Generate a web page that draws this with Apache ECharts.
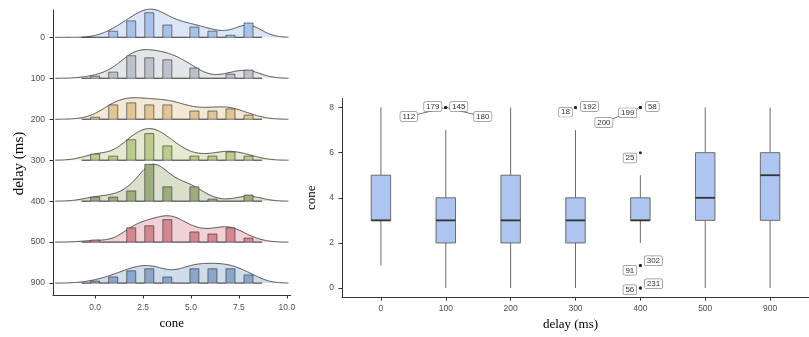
<!DOCTYPE html>
<html>
<head>
<meta charset="utf-8">
<script src="https://cdn.jsdelivr.net/npm/echarts@6/dist/echarts.min.js"></script>
<style>
  html, body { margin: 0; padding: 0; background: #fff; }
  #chart { width: 809px; height: 337px; }
</style>
</head>
<body>
<div id="chart"></div>
<script>
// delay groups (ms), top ridge first
const delays = ['0', '100', '200', '300', '400', '500', '900'];

// cone scores that occur
const coneValues = [0, 1, 2, 3, 4, 5, 6, 7, 8];

// how many trials got each cone score, per delay group
const counts0   = [0, 3, 8, 12, 6, 5, 3, 1, 7];
const counts100 = [1, 3, 11, 10, 9, 5, 0, 2, 4];
const counts200 = [1, 7, 8, 7, 7, 4, 4, 5, 2];
const counts300 = [3, 2, 10, 13, 7, 2, 2, 4, 2];
const counts400 = [2, 2, 5, 18, 7, 7, 1, 0, 3];
const counts500 = [1, 0, 7, 8, 11, 5, 4, 7, 2];
const counts900 = [1, 3, 6, 7, 3, 7, 7, 7, 4];
const groupCounts = [counts0, counts100, counts200, counts300, counts400, counts500, counts900];

// boxplot summary per delay group
const whiskerLow  = [1, 0, 0, 0, 2, 0, 0];
const boxQ1       = [3, 2, 2, 2, 3, 3, 3];
const boxMedian   = [3, 3, 3, 3, 3, 4, 5];
const boxQ3       = [5, 4, 5, 4, 4, 6, 6];
const whiskerHigh = [8, 7, 8, 7, 5, 8, 8];

// outliers: [delay group index, cone, row id]
const outliers = [
  [1, 8, '112'], [1, 8, '179'], [1, 8, '145'], [1, 8, '180'],
  [3, 8, '18'], [3, 8, '192'],
  [4, 8, '200'], [4, 8, '199'], [4, 8, '58'],
  [4, 6, '25'],
  [4, 1, '91'], [4, 1, '302'],
  [4, 0, '56'], [4, 0, '231']
];

// tick labels
const coneTicks = [0, 2.5, 5, 7.5, 10];
const boxTicks = [0, 2, 4, 6, 8];

// --- layout / style (not data) ---
const rowBar  = ['#a8c2ea', '#bcc1ca', '#e1c695', '#bccb8b', '#9dac7e', '#d5878f', '#8aa6cc'];
const rowFill = ['#dae5f7', '#e3e5e9', '#f3e8d5', '#e4e9d0', '#d9dfcb', '#f0d1d5', '#d0dcea'];
// label offsets in px from the outlier point (repel layout)
const labelNudge = {
  '112': [-37, 9], '179': [-13, -1], '145': [13, -1], '180': [37, 9],
  '18': [-10, 4.6], '192': [14, -1],
  '200': [-36.5, 15], '199': [-12.7, 5.3], '58': [12, -1],
  '25': [-10.4, 5.3],
  '91': [-10.5, 4.8], '302': [13, -4.8],
  '56': [-10.5, 1.7], '231': [13.2, -4.3]
};
const ridgeScale = 0.9;
const serif = 'Liberation Serif';
const sans = 'Liberation Sans';

// --- stats, the way the ridgeline layers compute them ---
function samplesOf(counts) {
  const xs = [];
  counts.forEach((c, i) => { for (let k = 0; k < c; k++) xs.push(coneValues[i]); });
  return xs;
}

function bwNrd0(xs) {
  const n = xs.length;
  const mean = xs.reduce((a, b) => a + b, 0) / n;
  const sd = Math.sqrt(xs.reduce((a, b) => a + (b - mean) * (b - mean), 0) / (n - 1));
  const s = xs.slice().sort((a, b) => a - b);
  const q = p => {
    const h = (n - 1) * p, lo = Math.floor(h);
    return s[lo] + (h - lo) * (s[Math.min(lo + 1, n - 1)] - s[lo]);
  };
  const lo = Math.min(sd, (q(0.75) - q(0.25)) / 1.34) || sd || 1;
  return 0.9 * lo * Math.pow(n, -0.2);
}

const groupSamples = groupCounts.map(samplesOf);
// joint bandwidth = mean of the per-group ones
const bw = groupSamples.map(bwNrd0).reduce((a, b) => a + b, 0) / groupSamples.length;
const dataMin = Math.min(...coneValues), dataMax = Math.max(...coneValues);
const gridN = 256;
const densX = [];
for (let i = 0; i < gridN; i++) {
  densX.push(dataMin - 3 * bw + (dataMax - dataMin + 6 * bw) * i / (gridN - 1));
}
const densities = groupSamples.map(xs => densX.map(x => {
  let sum = 0;
  xs.forEach(v => { const z = (x - v) / bw; sum += Math.exp(-0.5 * z * z); });
  return sum / (xs.length * bw * Math.sqrt(2 * Math.PI));
}));
const densMax = Math.max(...densities.map(d => Math.max(...d)));

// histogram: 18 bins centred on multiples of the width, padded by one empty bin each side
const nBins = 18;
const binW = (dataMax - dataMin) / (nBins - 1);
const binCenters = [];
for (let k = -1; k <= nBins; k++) binCenters.push(dataMin + k * binW);
const binCounts = groupCounts.map(counts => binCenters.map((c, bi) => {
  const k = bi - 1;
  let s = 0;
  counts.forEach((n, i) => {
    if (Math.ceil((coneValues[i] - dataMin - binW / 2) / binW - 1e-9) === k) s += n;
  });
  return s;
}));
const countMax = Math.max(...binCounts.map(b => Math.max(...b)));

const nRows = delays.length;
const baseOf = g => nRows - 1 - g;

const chart = echarts.init(document.getElementById('chart'), null, { renderer: 'canvas' });

const axisLine = { show: true, onZero: false, lineStyle: { color: '#333', width: 1 } };
const tickLabel = { fontSize: 8.5, color: '#4d4d4d', fontFamily: sans };
const titleStyle = { fontFamily: serif, fontSize: 13, color: '#000' };

chart.setOption({
  animation: false,
  backgroundColor: '#fff',
  grid: [
    { left: 53, top: 10, width: 237.7, height: 285 },
    { left: 342, top: 98.5, width: 478.6, height: 198.6 }
  ],
  xAxis: [
    {
      gridIndex: 0, type: 'value', min: -2.2, max: 10.2,
      axisLine: axisLine,
      axisTick: { show: true, length: 3.5, customValues: coneTicks, lineStyle: { color: '#333' } },
      axisLabel: Object.assign({ customValues: coneTicks, margin: 8, formatter: v => v.toFixed(1) }, tickLabel),
      splitLine: { show: false },
      name: 'cone', nameLocation: 'middle', nameGap: 21, nameTextStyle: titleStyle
    },
    {
      gridIndex: 1, type: 'value', min: 0.4, max: 7.6,
      axisLine: axisLine,
      axisTick: { show: true, length: 3.5, customValues: delays.map((d, i) => i + 1), lineStyle: { color: '#333' } },
      axisLabel: Object.assign({
        customValues: delays.map((d, i) => i + 1), margin: 7,
        formatter: v => delays[Math.round(v) - 1]
      }, tickLabel),
      splitLine: { show: false },
      name: 'delay (ms)', nameLocation: 'middle', nameGap: 21,
      nameTextStyle: Object.assign({ padding: [0, 10, 0, 0] }, titleStyle)
    }
  ],
  yAxis: [
    {
      gridIndex: 0, type: 'value', min: -0.29, max: 6.667,
      axisLine: axisLine,
      axisTick: { show: true, length: 3.5, customValues: delays.map((d, i) => baseOf(i)), lineStyle: { color: '#333' } },
      axisLabel: Object.assign({
        customValues: delays.map((d, i) => baseOf(i)), margin: 8,
        formatter: v => delays[nRows - 1 - Math.round(v)]
      }, tickLabel),
      splitLine: { show: false },
      name: 'delay (ms)', nameLocation: 'middle', nameGap: 26,
      nameTextStyle: Object.assign({}, titleStyle, { fontSize: 15, padding: [0, 22, 0, 0] })
    },
    {
      gridIndex: 1, type: 'value', min: -0.4, max: 8.4,
      axisLine: axisLine,
      axisTick: { show: true, length: 3.5, customValues: boxTicks, lineStyle: { color: '#333' } },
      axisLabel: Object.assign({ customValues: boxTicks, margin: 8 }, tickLabel),
      splitLine: { show: false },
      name: 'cone', nameLocation: 'middle', nameGap: 16, nameTextStyle: titleStyle
    }
  ],
  series: [
    {
      // density ridges
      type: 'custom', xAxisIndex: 0, yAxisIndex: 0, z: 2,
      data: delays.map((d, g) => [0, baseOf(g)]),
      renderItem: (params, api) => {
        const g = params.dataIndex;
        const base = baseOf(g);
        const top = densX.map((x, i) => api.coord([x, base + densities[g][i] / densMax * ridgeScale]));
        const area = [api.coord([densX[0], base])].concat(top, [api.coord([densX[densX.length - 1], base])]);
        return {
          type: 'group',
          children: [
            { type: 'polygon', shape: { points: area }, style: { fill: rowFill[g] } },
            { type: 'polyline', shape: { points: top }, style: { stroke: '#2b2b2b', lineWidth: 0.8, fill: null } }
          ]
        };
      }
    },
    {
      // histogram outlines
      type: 'custom', xAxisIndex: 0, yAxisIndex: 0, z: 3,
      data: delays.map((d, g) => [0, baseOf(g)]),
      renderItem: (params, api) => {
        const g = params.dataIndex;
        const base = baseOf(g);
        const pts = [api.coord([binCenters[0] - binW / 2, base])];
        binCenters.forEach((c, bi) => {
          const h = base + binCounts[g][bi] / countMax * ridgeScale;
          pts.push(api.coord([c - binW / 2, h]));
          pts.push(api.coord([c + binW / 2, h]));
        });
        pts.push(api.coord([binCenters[binCenters.length - 1] + binW / 2, base]));
        return {
          type: 'polygon', shape: { points: pts },
          style: { fill: rowBar[g], stroke: '#2b2b2b', lineWidth: 0.6 }
        };
      }
    },
    {
      // boxes and whiskers
      type: 'custom', xAxisIndex: 1, yAxisIndex: 1, z: 2,
      data: delays.map((d, g) => [g + 1, boxMedian[g]]),
      renderItem: (params, api) => {
        const g = params.dataIndex;
        const x = g + 1;
        const hw = 0.15;
        const lo = api.coord([x, whiskerLow[g]]);
        const q1 = api.coord([x, boxQ1[g]]);
        const q3 = api.coord([x, boxQ3[g]]);
        const hi = api.coord([x, whiskerHigh[g]]);
        const left = api.coord([x - hw, boxQ1[g]])[0];
        const right = api.coord([x + hw, boxQ1[g]])[0];
        const med = api.coord([x, boxMedian[g]])[1];
        const ws = { stroke: '#5a5a5a', lineWidth: 0.9 };
        return {
          type: 'group',
          children: [
            { type: 'line', shape: { x1: lo[0], y1: lo[1], x2: q1[0], y2: q1[1] }, style: ws },
            { type: 'line', shape: { x1: q3[0], y1: q3[1], x2: hi[0], y2: hi[1] }, style: ws },
            { type: 'rect', shape: { x: left, y: q3[1], width: right - left, height: q1[1] - q3[1] },
              style: { fill: '#aec6ef', stroke: '#5f5f5f', lineWidth: 0.9 } },
            { type: 'line', shape: { x1: left, y1: med, x2: right, y2: med },
              style: { stroke: '#333', lineWidth: 1.8 } }
          ]
        };
      }
    },
    {
      // outlier points
      type: 'custom', xAxisIndex: 1, yAxisIndex: 1, z: 3,
      data: outliers.map(o => [o[0] + 1, o[1]]),
      renderItem: (params, api) => {
        const p = api.coord([api.value(0), api.value(1)]);
        return { type: 'circle', shape: { cx: p[0], cy: p[1], r: 1.5 }, style: { fill: '#222' } };
      }
    },
    {
      // repel segments
      type: 'custom', xAxisIndex: 1, yAxisIndex: 1, z: 4,
      data: outliers.map(o => [o[0] + 1, o[1]]),
      renderItem: (params, api) => {
        const p = api.coord([api.value(0), api.value(1)]);
        const nd = labelNudge[outliers[params.dataIndex][2]];
        const len = Math.hypot(nd[0], nd[1]);
        if (len < 20) return null;
        const t = 2.5 / len;
        return {
          type: 'line',
          shape: { x1: p[0] + nd[0], y1: p[1] + nd[1], x2: p[0] + nd[0] * t, y2: p[1] + nd[1] * t },
          style: { stroke: '#333', lineWidth: 0.7 }
        };
      }
    },
    {
      // outlier row labels
      type: 'custom', xAxisIndex: 1, yAxisIndex: 1, z: 5,
      data: outliers.map(o => [o[0] + 1, o[1]]),
      renderItem: (params, api) => {
        const p = api.coord([api.value(0), api.value(1)]);
        const id = outliers[params.dataIndex][2];
        const nd = labelNudge[id];
        return {
          type: 'text',
          x: p[0] + nd[0], y: p[1] + nd[1],
          style: {
            text: id, align: 'center', verticalAlign: 'middle',
            fontSize: 8, fontFamily: sans, fill: '#333',
            backgroundColor: '#fff', borderColor: '#8a8a8a', borderWidth: 0.7, borderRadius: 1.5,
            padding: [1, 2, 0, 2]
          }
        };
      }
    }
  ]
});
</script>
</body>
</html>
